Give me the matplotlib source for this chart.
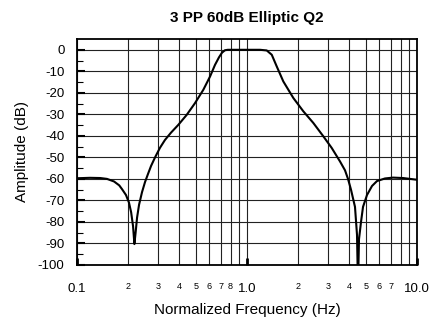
import matplotlib
matplotlib.use("Agg")
import matplotlib.pyplot as plt
from matplotlib.ticker import FixedLocator, FixedFormatter

plt.rcParams["font.family"] = ["Liberation Sans", "DejaVu Sans"]
plt.rcParams["axes.unicode_minus"] = False

# values
freq = [0.100, 0.119, 0.137, 0.150, 0.165, 0.177, 0.184, 0.194, 0.202, 0.208,
        0.2135, 0.2174, 0.221, 0.2254, 0.2316, 0.241, 0.251, 0.262, 0.2724, 0.2876,
        0.3077, 0.329, 0.3571, 0.394, 0.442, 0.494, 0.553, 0.606, 0.648, 0.684,
        0.713, 0.742, 0.771, 1.193,
        1.306, 1.398, 1.495, 1.635, 1.873, 2.145, 2.455, 2.811, 3.149, 3.525,
        3.771, 3.928, 4.090, 4.318, 4.437, 4.497, 4.559, 4.685, 4.814, 5.080,
        5.437, 5.818, 6.482, 7.225, 8.275, 10.0]
amp_db = [-59.7, -59.5, -59.6, -60.0, -61.2, -63.0, -64.8, -67.5, -71.0, -75.5,
          -82.0, -90.3, -85.0, -78.0, -72.0, -66.2, -61.5, -57.5, -54.0, -50.0,
          -45.5, -41.9, -38.5, -34.9, -30.2, -24.8, -18.6, -12.4, -7.0, -3.5,
          -1.3, -0.2, 0.0, 0.0,
          -0.3, -2.3, -7.7, -14.7, -22.4, -28.6, -34.0, -40.2, -45.6, -51.9,
          -56.0, -60.0, -65.0, -73.0, -86.0, -110.0, -88.0, -80.0, -73.0, -67.5,
          -63.3, -61.0, -59.8, -59.4, -59.6, -60.4]

y_ticks = list(range(-100, 1, 10))
y_minor = list(range(-95, 0, 10))
x_major = [0.1, 1.0, 10.0]
x_major_labels = ["0.1", "1.0", "10.0"]
x_minor = [0.2, 0.3, 0.4, 0.5, 0.6, 0.7, 0.8, 0.9, 2, 3, 4, 5, 6, 7, 8, 9]
x_minor_labels = ["2", "3", "4", "5", "6", "7", "8", "", "2", "3", "4", "5", "6", "7", "", ""]

fig = plt.figure(figsize=(4.33, 3.2), dpi=100)
ax = fig.add_axes([0.178, 0.172, 0.785, 0.706])

ax.plot(freq, amp_db, color="black", lw=1.5, solid_joinstyle="round")

ax.set_xscale("log")
ax.set_xlim(0.1, 10)
ax.set_ylim(-100, 5)

ax.xaxis.set_major_locator(FixedLocator(x_major))
ax.xaxis.set_major_formatter(FixedFormatter(x_major_labels))
ax.xaxis.set_minor_locator(FixedLocator(x_minor))
ax.xaxis.set_minor_formatter(FixedFormatter(x_minor_labels))
ax.tick_params(axis="x", which="major", direction="in", length=5, width=2,
               labelsize=9.5, pad=13)
ax.tick_params(axis="x", which="minor", direction="in", length=0,
               labelsize=6.5, pad=12)

ax.yaxis.set_major_locator(FixedLocator(y_ticks))
ax.yaxis.set_major_formatter(FixedFormatter([str(v) for v in y_ticks]))
ax.yaxis.set_minor_locator(FixedLocator(y_minor))
ax.tick_params(axis="y", which="major", direction="in", length=6, width=1.5,
               labelsize=9.5, pad=9)
ax.tick_params(axis="y", which="minor", direction="in", length=4, width=0.8)

ax.grid(True, which="major", axis="y", color="#222222", lw=0.8)
ax.grid(True, which="both", axis="x", color="#222222", lw=0.8)
ax.set_axisbelow(True)

for s in ax.spines.values():
    s.set_linewidth(1.3)

ax.set_title("3 PP 60dB Elliptic Q2", fontsize=11, fontweight="bold", pad=12)
ax.set_xlabel("Normalized Frequency (Hz)", fontsize=11, labelpad=6)
ax.set_ylabel("Amplitude (dB)", fontsize=11, labelpad=6)

fig.savefig("out.png", dpi=100)
